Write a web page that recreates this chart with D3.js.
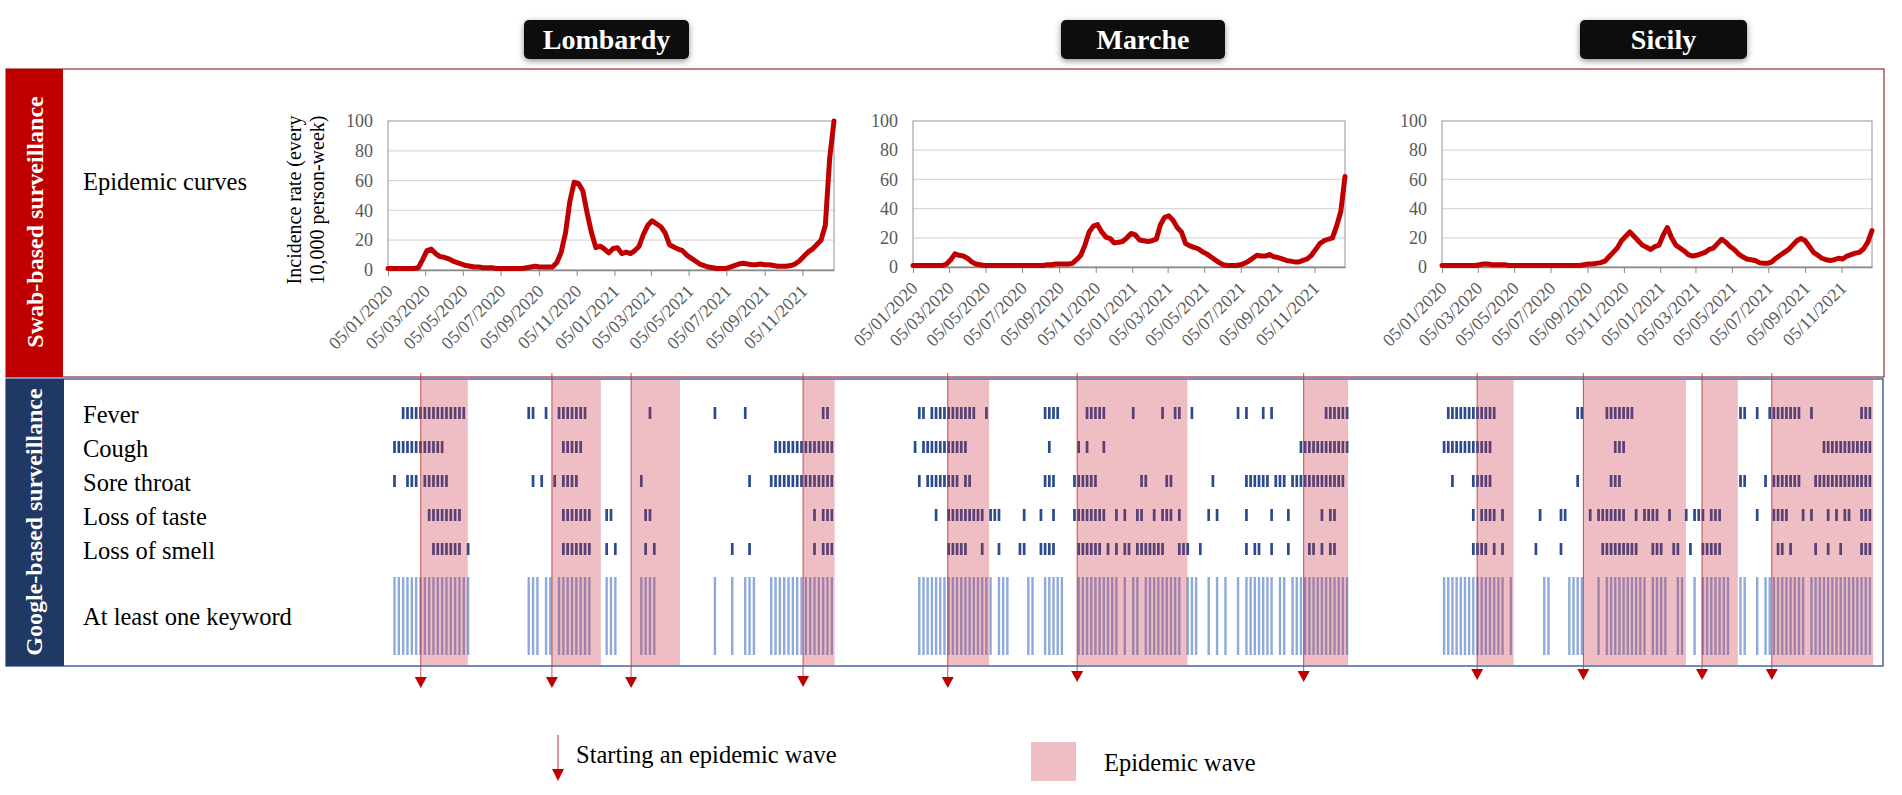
<!DOCTYPE html>
<html>
<head>
<meta charset="utf-8">
<script src="https://cdn.jsdelivr.net/npm/d3@7"></script>
<style>
  body { margin: 0; background: #fff; }
  svg text { font-family: "Liberation Serif", "Times New Roman", serif; }
</style>
</head>
<body>
<svg id="fig" width="1902" height="795"></svg>
<script>
/* Swab-based epidemic curves vs Google-search keyword signals,
   Lombardy / Marche / Sicily, weekly from 05/01/2020. */

// ---- data -------------------------------------------------------------
var regionNames = ["Lombardy", "Marche", "Sicily"];
var keywordRows = ["Fever", "Cough", "Sore throat", "Loss of taste", "Loss of smell"];
var xTickLabels = ["05/01/2020", "05/03/2020", "05/05/2020", "05/07/2020", "05/09/2020",
                   "05/11/2020", "05/01/2021", "05/03/2021", "05/05/2021", "05/07/2021",
                   "05/09/2021", "05/11/2021"];
var yTicks = [0, 20, 40, 60, 80, 100];

// incidence rate per 10,000 person-week, one value per week (104 weeks)
var lombardyRate = [1, 1, 1, 1, 1, 1, 1, 1.5, 7, 13, 14, 11, 9, 8.5, 7.5, 6, 5, 4, 3, 2.5,
  2, 2, 1.5, 1.5, 1.5, 1, 1, 1, 1, 1, 1, 1, 1.5, 2, 2.5, 2, 2, 2, 2, 5,
  12, 25, 46, 59, 58, 53, 38, 25, 15, 16, 14, 11.5, 14.5, 15, 11, 12, 11, 13, 16, 24,
  30, 33, 31, 29, 25, 17, 15.5, 14, 13, 10, 8, 6, 4, 3, 2, 1.5, 1, 1, 1, 2,
  3, 4, 4.5, 4, 3.5, 3.5, 4, 3.5, 3.5, 3, 2.5, 2.5, 2.5, 3, 4, 6, 9, 12, 14, 17,
  20, 30, 75, 100];
var marcheRate = [1, 1, 1, 1, 1, 1, 1, 1, 2, 5, 9, 8, 7.5, 6, 3.5, 2, 1.5, 1, 1, 1,
  1, 1, 1, 1, 1, 1, 1, 1, 1, 1, 1, 1, 1.5, 1.5, 2, 2, 2, 2, 2.5, 5,
  8, 15, 24, 28, 29, 24, 20.5, 19.5, 16.5, 17, 17.5, 20, 23, 22, 18.5, 18, 17.5, 18, 19, 29,
  34, 35, 32, 27, 24, 16, 14.5, 13.5, 12.5, 10.5, 9, 7, 5, 3, 1.5, 1, 1, 1, 1.5, 2.5,
  4, 6, 8, 7.5, 7.5, 8.5, 7, 6.5, 5.5, 4.5, 4, 3.5, 3.5, 4.5, 5.5, 8, 12, 16, 18, 19,
  20, 28, 38, 62];
var sicilyRate = [1, 1, 1, 1, 1, 1, 1, 1, 1, 1.5, 2, 2, 1.5, 1.5, 1.5, 1.5, 1, 1, 1, 1,
  1, 1, 1, 1, 1, 1, 1, 1, 1, 1, 1, 1, 1, 1, 1.5, 2, 2, 2.5, 3, 4,
  7, 10, 13, 18, 21, 24, 21, 18, 15, 13.5, 12, 14, 15, 22, 27, 20, 15, 13, 11, 8.5,
  7.5, 8, 9, 10, 12, 13, 16, 19, 17, 14, 12, 9, 7, 5.5, 5, 4.5, 3, 2.5, 2.5, 3.5,
  6, 8, 10, 12, 15, 18, 19.5, 18, 14, 10, 8, 6, 5, 4.5, 5, 6, 5.5, 7.5, 8.5, 9.5,
  10, 12.5, 17, 25];

// keyword signals: runs of week indices [first, last]
var lombardyFever = [[3, 17], [32, 33], [36], [39, 45], [60], [75], [82], [100, 101]];
var lombardyCough = [[1, 12], [40, 44], [89, 102]];
var lombardySore  = [[1], [4, 6], [8, 13], [33], [35], [38], [40, 43], [58], [83], [88, 102]];
var lombardyTaste = [[9, 16], [40, 46], [50, 51], [59, 60], [98], [100, 102]];
var lombardySmell = [[10, 16], [18], [40, 46], [50], [52], [59], [61], [79], [83], [98], [100, 102]];
var lombardyAny   = [[1, 18], [32, 34], [36, 37], [39, 46], [50, 52], [58, 61], [75], [79],
                     [82, 84], [88, 102]];

var marcheFever = [[1, 2], [4, 14], [17], [31, 34], [41, 45], [52], [59], [62, 63], [66], [77],
                   [79], [83], [85], [98, 103]];
var marcheCough = [[0], [2, 12], [32], [39], [41], [45], [92, 103]];
var marcheSore  = [[1], [3, 10], [12, 13], [31, 33], [38, 43], [54, 55], [60, 61], [71], [79, 84],
                   [86, 88], [90, 102]];
var marcheTaste = [[5], [8, 16], [18, 20], [26], [30], [33], [38, 45], [48], [50], [53, 54], [57],
                   [59, 61], [63], [70], [72], [79], [85], [89], [97], [99, 100]];
var marcheSmell = [[8, 12], [16], [20], [25, 26], [30, 33], [39, 44], [46], [48], [50, 51], [53, 59],
                   [63, 65], [68], [79], [81, 82], [85], [89], [94, 95], [97], [99, 100]];
var marcheAny   = [[1, 18], [20, 22], [27, 28], [31, 35], [39, 48], [50], [52, 53], [55, 63],
                   [65, 67], [70], [72], [74], [77], [79, 85], [87, 88], [90, 103]];

var sicilyFever = [[1, 12], [32, 33], [39, 45], [71, 72], [75], [78, 85], [88], [100, 102]];
var sicilyCough = [[0, 11], [41, 43], [91, 102]];
var sicilySore  = [[2], [7, 11], [32], [40, 42], [71, 72], [77], [79, 85], [89, 102]];
var sicilyTaste = [[7], [9, 12], [14], [23], [28, 29], [35], [37, 43], [46], [48, 51], [54], [58],
                   [60, 62], [64, 66], [75], [79, 82], [86], [88], [92], [94], [96, 97], [100, 102]];
var sicilySmell = [[7, 10], [12], [14], [22], [28], [38, 46], [50, 52], [55, 56], [59], [62, 66],
                   [80, 81], [83], [89], [92], [95], [100, 102]];
var sicilyAny   = [[0, 14], [16], [24, 25], [30, 33], [37], [39, 48], [50, 53], [56, 57], [60],
                   [62, 68], [71, 72], [75], [77, 86], [88, 102]];

// epidemic waves [start, end]; the arrow marks the start
var lombardyWaves = [["2020-02-27", "2020-05-13"], ["2020-09-26", "2020-12-14"],
                     ["2021-02-01", "2021-04-21"], ["2021-11-06", "2021-12-27"]];
var marcheWaves   = [["2020-03-03", "2020-05-11"], ["2020-10-05", "2021-04-07"],
                     ["2021-10-18", "2021-12-31"]];
var sicilyWaves   = [["2020-03-04", "2020-05-04"], ["2020-08-29", "2021-02-17"],
                     ["2021-03-16", "2021-05-15"], ["2021-07-11", "2021-12-28"]];

// ---- layout -----------------------------------------------------------
var WEEK0 = new Date(2020, 0, 5);
var NWEEKS = 104;
function weekDate(i) { return d3.timeDay.offset(WEEK0, 7 * i); }
var parseISO = d3.timeParse("%Y-%m-%d");
var parseTick = d3.timeParse("%d/%m/%Y");

var regions = [
  { rate: lombardyRate, rows: [lombardyFever, lombardyCough, lombardySore, lombardyTaste, lombardySmell],
    any: lombardyAny, waves: lombardyWaves, x0: 388, x1: 834, yTop: 121, yBot: 270,
    boxX: 524, boxW: 165, tips: [688, 688, 688, 687] },
  { rate: marcheRate, rows: [marcheFever, marcheCough, marcheSore, marcheTaste, marcheSmell],
    any: marcheAny, waves: marcheWaves, x0: 913, x1: 1345, yTop: 121, yBot: 267,
    boxX: 1061, boxW: 164, tips: [688, 682, 682] },
  { rate: sicilyRate, rows: [sicilyFever, sicilyCough, sicilySore, sicilyTaste, sicilySmell],
    any: sicilyAny, waves: sicilyWaves, x0: 1442, x1: 1872, yTop: 121, yBot: 267,
    boxX: 1580, boxW: 167, tips: [680, 680, 680, 680] }
];
regions.forEach(function (r, i) { r.name = regionNames[i]; });

var RED = "#c00000", NAVY = "#2b4b8c", LIGHT = "#8eaadb", PINK = "#c8283c";
var rowY = d3.scalePoint().domain(keywordRows).range([413, 549]);
var ANY_TOP = 577, ANY_H = 78;
var PANEL_TOP = 380, PANEL_BOT = 665;

function expand(runs) {
  var out = [];
  runs.forEach(function (r) {
    var last = r.length > 1 ? r[1] : r[0];
    for (var w = r[0]; w <= last; w++) out.push(w);
  });
  return out;
}

var svg = d3.select("#fig");
var defs = svg.append("defs");
var shadow = defs.append("filter").attr("id", "shadow")
  .attr("x", "-20%").attr("y", "-40%").attr("width", "140%").attr("height", "180%");
shadow.append("feDropShadow").attr("dx", 0).attr("dy", 2).attr("stdDeviation", 3)
  .attr("flood-color", "#000").attr("flood-opacity", 0.45);

// ---- panels -----------------------------------------------------------
svg.append("rect").attr("x", 6).attr("y", 69).attr("width", 1878).attr("height", 308)
  .attr("fill", "none").attr("stroke", "#a8393b").attr("stroke-width", 1.3);
svg.append("rect").attr("x", 6).attr("y", 69).attr("width", 57).attr("height", 308)
  .attr("fill", RED);
svg.append("rect").attr("x", 6).attr("y", 379).attr("width", 1877).attr("height", 287)
  .attr("fill", "none").attr("stroke", "#3a5a98").attr("stroke-width", 1.4);
svg.append("rect").attr("x", 6).attr("y", 379).attr("width", 58).attr("height", 287)
  .attr("fill", "#1f3864");

svg.append("text").attr("transform", "translate(43,222) rotate(-90)")
  .attr("text-anchor", "middle").attr("fill", "#fff").attr("font-weight", "bold")
  .attr("font-size", "24px").text("Swab-based surveillance");
svg.append("text").attr("transform", "translate(42,522) rotate(-90)")
  .attr("text-anchor", "middle").attr("fill", "#fff").attr("font-weight", "bold")
  .attr("font-size", "24px").text("Google-based surveillance");

var labelFont = "24.5px";
svg.append("text").attr("x", 83).attr("y", 190).attr("font-size", labelFont)
  .text("Epidemic curves");
svg.selectAll("text.rowlab").data(keywordRows).join("text")
  .attr("class", "rowlab").attr("x", 83)
  .attr("y", function (d) { return rowY(d) + 9.5; })
  .attr("font-size", labelFont).text(function (d) { return d; });
svg.append("text").attr("x", 83).attr("y", ANY_TOP + ANY_H / 2 + 9)
  .attr("font-size", labelFont).text("At least one keyword");

// y-axis title (Lombardy only)
svg.append("text").attr("transform", "translate(301,200) rotate(-90)")
  .attr("text-anchor", "middle").attr("font-size", "20px").text("Incidence rate (every");
svg.append("text").attr("transform", "translate(324,200) rotate(-90)")
  .attr("text-anchor", "middle").attr("font-size", "20px").text("10,000 person-week)");

// ---- per region -------------------------------------------------------
regions.forEach(function (r) {
  var x = d3.scaleTime().domain([weekDate(0), weekDate(NWEEKS - 1)]).range([r.x0, r.x1]);
  var y = d3.scaleLinear().domain([0, 100]).range([r.yBot, r.yTop]);
  var pw = x(weekDate(1)) - x(weekDate(0));
  var g = svg.append("g");

  // header
  g.append("rect").attr("x", r.boxX).attr("y", 20).attr("width", r.boxW).attr("height", 39)
    .attr("rx", 5).attr("fill", "#0d0d0d").attr("filter", "url(#shadow)");
  g.append("text").attr("x", r.boxX + r.boxW / 2).attr("y", 49).attr("text-anchor", "middle")
    .attr("fill", "#fff").attr("font-weight", "bold").attr("font-size", "28px").text(r.name);

  // epidemic curve
  g.append("g").selectAll("line").data(yTicks.slice(1, -1)).join("line")
    .attr("x1", r.x0).attr("x2", r.x1).attr("y1", y).attr("y2", y)
    .attr("stroke", "#d9d9d9").attr("stroke-width", 1.2);
  g.append("rect").attr("x", r.x0).attr("y", r.yTop).attr("width", r.x1 - r.x0)
    .attr("height", r.yBot - r.yTop).attr("fill", "none")
    .attr("stroke", "#a6a6a6").attr("stroke-width", 1.2);

  var yAxis = g.append("g").attr("transform", "translate(" + (r.x0 - 12) + ",0)")
    .call(d3.axisLeft(y).tickValues(yTicks).tickSize(0));
  yAxis.select(".domain").remove();
  yAxis.selectAll("text").attr("font-family", "Liberation Serif").attr("font-size", "18px")
    .attr("fill", "#595959");

  var xAxis = g.append("g").attr("transform", "translate(0," + r.yBot + ")")
    .call(d3.axisBottom(x).tickValues(xTickLabels.map(parseTick))
      .tickFormat(d3.timeFormat("%d/%m/%Y")).tickSize(6).tickSizeOuter(0));
  xAxis.select(".domain").attr("stroke", "#898989").attr("stroke-width", 1.3);
  xAxis.selectAll(".tick line").attr("stroke", "#898989");
  xAxis.selectAll("text").attr("font-family", "Liberation Serif").attr("font-size", "18px")
    .attr("fill", "#595959").attr("text-anchor", "end")
    .attr("x", 0).attr("y", 0).attr("dy", "0.35em")
    .attr("transform", "translate(1,18) rotate(-45)");

  g.append("path").datum(r.rate)
    .attr("d", d3.line().x(function (d, i) { return x(weekDate(i)); }).y(function (d) { return y(d); }))
    .attr("fill", "none").attr("stroke", RED).attr("stroke-width", 5)
    .attr("stroke-linejoin", "round").attr("stroke-linecap", "round");

  // keyword barcodes
  r.rows.forEach(function (runs, k) {
    g.append("g").selectAll("rect").data(expand(runs)).join("rect")
      .attr("x", function (w) { return x(weekDate(w)) + pw / 2 - 1.35; })
      .attr("y", rowY(keywordRows[k]) - 6).attr("width", 2.7).attr("height", 12)
      .attr("fill", NAVY);
  });
  g.append("g").selectAll("rect").data(expand(r.any)).join("rect")
    .attr("x", function (w) { return x(weekDate(w)) + pw / 2 - 1.2; })
    .attr("y", ANY_TOP).attr("width", 2.4).attr("height", ANY_H).attr("fill", LIGHT);

  // waves + start arrows
  g.append("g").selectAll("rect").data(r.waves).join("rect")
    .attr("x", function (d) { return x(parseISO(d[0])); })
    .attr("width", function (d) { return x(parseISO(d[1])) - x(parseISO(d[0])); })
    .attr("y", PANEL_TOP).attr("height", PANEL_BOT - PANEL_TOP)
    .attr("fill", PINK).attr("fill-opacity", 0.3);
  r.waves.forEach(function (d, i) {
    var cx = x(parseISO(d[0])), tip = r.tips[i];
    g.append("line").attr("x1", cx).attr("x2", cx).attr("y1", 373).attr("y2", tip - 10)
      .attr("stroke", "#b8323c").attr("stroke-width", 1).attr("stroke-opacity", 0.85);
    g.append("path")
      .attr("d", "M" + (cx - 6) + "," + (tip - 11) + "L" + (cx + 6) + "," + (tip - 11) +
                 "L" + cx + "," + tip + "Z")
      .attr("fill", RED);
  });
});

// ---- legend -----------------------------------------------------------
svg.append("line").attr("x1", 558).attr("x2", 558).attr("y1", 735).attr("y2", 770)
  .attr("stroke", "#b8323c").attr("stroke-width", 1);
svg.append("path").attr("d", "M552,769L564,769L558,781Z").attr("fill", RED);
svg.append("text").attr("x", 576).attr("y", 763).attr("font-size", "24.5px")
  .text("Starting an epidemic wave");
svg.append("rect").attr("x", 1031).attr("y", 742).attr("width", 45).attr("height", 39)
  .attr("fill", PINK).attr("fill-opacity", 0.3);
svg.append("text").attr("x", 1104).attr("y", 771).attr("font-size", "24.5px")
  .text("Epidemic wave");
</script>
</body>
</html>
